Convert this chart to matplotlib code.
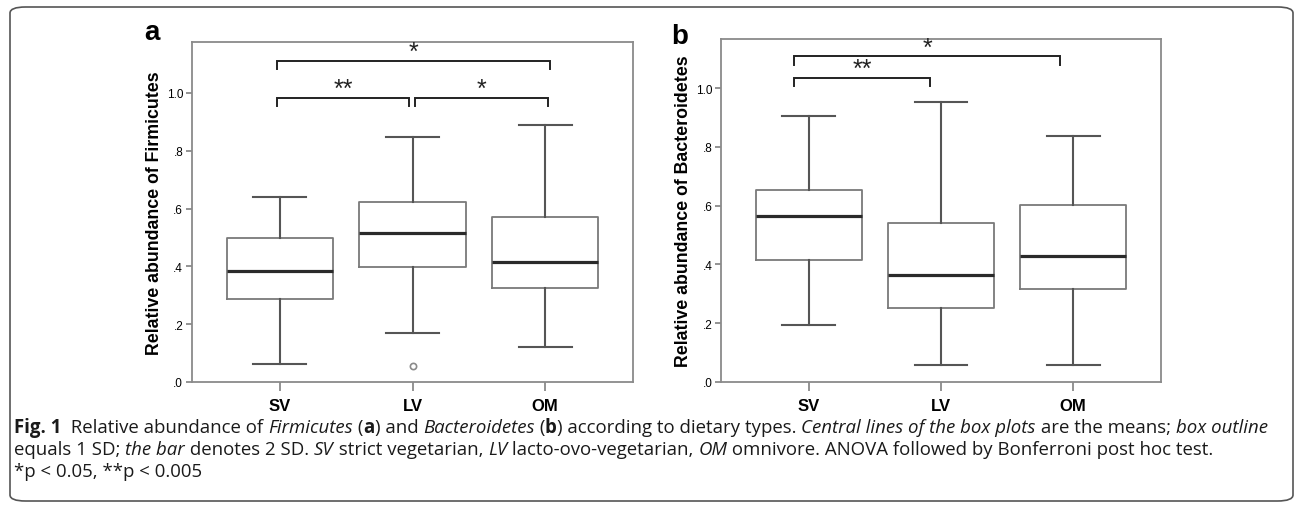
import matplotlib
matplotlib.use("Agg")
import matplotlib.pyplot as plt
from matplotlib.patches import FancyBboxPatch

# --- data (mean, mean±1SD, mean±2SD) ---
groups = ["SV", "LV", "OM"]

firm_mean = [0.384, 0.514, 0.416]
firm_lo1 = [0.286, 0.399, 0.326]
firm_hi1 = [0.498, 0.624, 0.570]
firm_lo2 = [0.063, 0.168, 0.121]
firm_hi2 = [0.641, 0.848, 0.888]
firm_out = [[], [0.056], []]

bact_mean = [0.565, 0.364, 0.427]
bact_lo1 = [0.414, 0.253, 0.316]
bact_hi1 = [0.652, 0.542, 0.602]
bact_lo2 = [0.194, 0.057, 0.058]
bact_hi2 = [0.904, 0.953, 0.836]
bact_out = [[], [], []]

# significance brackets: (x from, x to, level, label)
firm_sig = [(0.98, 3.04, 1.112, "*"), (0.98, 1.97, 0.983, "**"), (2.02, 3.02, 0.983, "*")]
bact_sig = [(0.89, 2.90, 1.108, "*"), (0.89, 1.915, 1.036, "**")]

W, H = 1295, 506
ARIAL = "Liberation Sans"
CAP = "Open Sans"
FRAME = "#8a8a8a"

fig = plt.figure(figsize=(W / 100, H / 100), dpi=100)


def panel(rect, ymax, means, lo1, hi1, lo2, hi2, outs, sig, ylabel, letter, lx, ly):
    ax = fig.add_axes(rect)
    stats = []
    for i in range(len(groups)):
        stats.append(dict(med=means[i], q1=lo1[i], q3=hi1[i],
                          whislo=lo2[i], whishi=hi2[i], fliers=outs[i]))
    ax.bxp(stats, positions=[1, 2, 3], widths=0.8, capwidths=0.4,
           boxprops=dict(color="#7a7a7a", linewidth=1.3),
           medianprops=dict(color="#2a2a2a", linewidth=2.3),
           whiskerprops=dict(color="#555555", linewidth=1.5),
           capprops=dict(color="#555555", linewidth=1.5),
           flierprops=dict(marker="o", markersize=4.5, markerfacecolor="none",
                           markeredgecolor="#8a8a8a", markeredgewidth=1.2))
    ax.set_xlim(0.336, 3.664)
    ax.set_ylim(0, ymax)
    ax.set_xticks([1, 2, 3])
    ax.set_xticklabels(groups, fontfamily=ARIAL, fontweight="bold", fontsize=12)
    ax.set_yticks([0, 0.2, 0.4, 0.6, 0.8, 1.0])
    ax.set_yticklabels([".0", ".2", ".4", ".6", ".8", "1.0"], fontfamily=ARIAL, fontsize=8.5)
    ax.tick_params(axis="x", length=6.5, width=1.3, color=FRAME, pad=5)
    ax.tick_params(axis="y", length=4.3, width=1.3, color=FRAME, pad=2)
    for s in ax.spines.values():
        s.set_color(FRAME)
        s.set_linewidth(1.3)
    ax.set_ylabel(ylabel, fontfamily=ARIAL, fontweight="bold", fontsize=12.8, labelpad=3)
    for x1, x2, y, lab in sig:
        ax.plot([x1, x1, x2, x2], [y - 0.03, y, y, y - 0.03], color="#222222",
                linewidth=1.4, solid_joinstyle="miter")
        ax.text((x1 + x2) / 2, y + 0.006, lab, ha="center", va="baseline",
                fontfamily=ARIAL, fontsize=18, color="#222222")
    fig.text(lx / W, 1 - ly / H, letter, fontfamily=ARIAL, fontweight="bold",
             fontsize=20, ha="center", va="center")
    return ax


panel([192 / W, 1 - 383 / H, 441 / W, 340 / H], 1.176,
      firm_mean, firm_lo1, firm_hi1, firm_lo2, firm_hi2, firm_out, firm_sig,
      "Relative abundance of Firmicutes", "a", 152, 33)
panel([721 / W, 1 - 383 / H, 440 / W, 343 / H], 1.167,
      bact_mean, bact_lo1, bact_hi1, bact_lo2, bact_hi2, bact_out, bact_sig,
      "Relative abundance of Bacteroidetes", "b", 680, 37)

# rounded frame around the whole figure
fig.patches.append(FancyBboxPatch((10 / W, 4 / H), 1283 / W, 494 / H,
                                  boxstyle="round,pad=0,rounding_size=0.012",
                                  transform=fig.transFigure, facecolor="none",
                                  edgecolor="#555555", linewidth=1.2))

# caption, drawn as runs of styled text
N, I, B = "normal", "italic", "bold"
cap_lines = [
    [("Fig. 1", B), ("  Relative abundance of ", N), ("Firmicutes", I), (" (", N), ("a", B),
     (") and ", N), ("Bacteroidetes", I), (" (", N), ("b", B),
     (") according to dietary types. ", N), ("Central lines of the box plots", I),
     (" are the means; ", N), ("box outline", I)],
    [("equals 1 SD; ", N), ("the bar", I), (" denotes 2 SD. ", N), ("SV", I),
     (" strict vegetarian, ", N), ("LV", I), (" lacto-ovo-vegetarian, ", N), ("OM", I),
     (" omnivore. ANOVA followed by Bonferroni post hoc test.", N)],
    [("*p < 0.05, **p < 0.005", N)],
]
cap_y = [433, 455, 477]
renderer = fig.canvas.get_renderer()


def draw_line(runs, x0, y, size):
    x = x0
    arts = []
    for txt, st in runs:
        t = fig.text(x / W, 1 - y / H, txt, fontfamily=CAP, fontsize=size,
                     fontstyle="italic" if st == I else "normal",
                     fontweight="bold" if st == B else "normal",
                     va="baseline", ha="left", color="#1a1a1a")
        x += t.get_window_extent(renderer).width
        arts.append(t)
    return x - x0, arts


w, tmp = draw_line(cap_lines[0], 14, cap_y[0], 10)
for t in tmp:
    t.remove()
size = 10 * 1253 / w
for runs, y in zip(cap_lines, cap_y):
    draw_line(runs, 14, y, size)

fig.savefig("out.png", dpi=100, facecolor="white")
